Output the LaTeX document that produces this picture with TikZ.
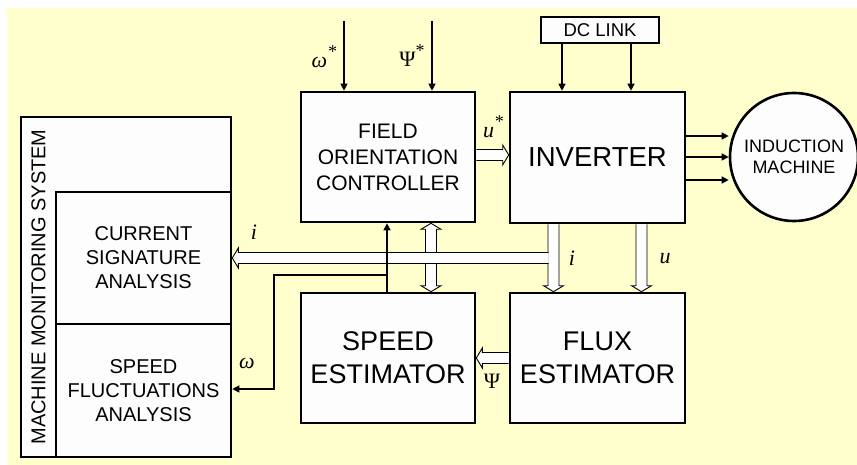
\documentclass[tikz,border=0pt]{standalone}
\usepackage{fontspec}
\setmainfont{Liberation Sans}
\newfontfamily\tms{Liberation Serif}
\usetikzlibrary{calc,arrows.meta}
\definecolor{bgyel}{RGB}{255,255,206}
\definecolor{boxw}{RGB}{253,253,253}
\tikzset{
  box/.style={draw=black, fill=boxw, line width=2.6pt, inner sep=0pt, align=center},
  thinarr/.style={line width=1.2pt, -{Triangle[length=7pt,width=7pt]}},
  hollowst/.style={draw=black, fill=white, line width=0.9pt, line join=miter},
  sym/.style={inner sep=0pt, font=\fontsize{22}{22}\tms}
}
\newcommand\sstar{\raisebox{0.45em}{\fontsize{18}{18}\selectfont *}}
% hollow (block) arrow from #1 to #2
\newcommand\hollow[2]{%
  \path (#1) coordinate (hs) (#2) coordinate (he);
  \path ($(he)!6pt!(hs)$) coordinate (hb);
  \filldraw[hollowst] ($(hs)!5.5pt!90:(he)$) -- ($(hb)!5.5pt!90:(he)$) -- ($(hb)!10pt!90:(he)$) -- (he)
    -- ($(hb)!10pt!-90:(he)$) -- ($(hb)!5.5pt!-90:(he)$) -- ($(hs)!5.5pt!-90:(he)$);
}
\begin{document}
\begin{tikzpicture}[x=1pt,y=-1pt]
\useasboundingbox (0,0) rectangle (857,465);
\fill[bgyel] (7,8) rectangle (857,465);

% machine monitoring system
\node[box, minimum width=210pt, minimum height=340pt] (mms) at (126,287) {};
\node[box, minimum width=175pt, minimum height=132pt, font=\fontsize{20}{24}\selectfont] (csa) at (143.5,258) {CURRENT\\SIGNATURE\\ANALYSIS};
\node[box, minimum width=175pt, minimum height=133pt, font=\fontsize{20}{24}\selectfont] (sfa) at (143.5,390.5) {SPEED\\FLUCTUATIONS\\ANALYSIS};
\node[rotate=90, inner sep=0pt, font=\fontsize{20}{24}\selectfont] (mmst) at (38.5,287) {MACHINE MONITORING SYSTEM};

% main blocks
\node[box, minimum width=174pt, minimum height=130pt, font=\fontsize{21}{26}\selectfont] (foc) at (388,157) {FIELD\\ORIENTATION\\CONTROLLER};
\node[box, minimum width=175pt, minimum height=131pt, font=\fontsize{27.5}{33}\selectfont] (inv) at (597.5,157.5) {INVERTER};
\node[box, minimum width=174pt, minimum height=130pt, font=\fontsize{27}{33}\selectfont] (se) at (388,358) {SPEED\\ESTIMATOR};
\node[box, minimum width=175pt, minimum height=130pt, font=\fontsize{27}{33}\selectfont] (fe) at (597.5,358) {FLUX\\ESTIMATOR};
\node[box, line width=2.4pt, minimum width=118pt, minimum height=26pt, font=\fontsize{18.5}{22}\selectfont] (dc) at (600,30) {DC LINK};
\node[box, circle, minimum size=128pt, font=\fontsize{18}{21}\selectfont] (im) at (794,157) {INDUCTION\\MACHINE};

% reference inputs
\coordinate (wst) at (344,21);
\coordinate (pst) at (432,21);
\draw[thinarr] (wst) -- (wst |- foc.north);
\draw[thinarr] (pst) -- (pst |- foc.north);
\node[sym] (lw) at (324,57) {\itshape ω\sstar};
\node[sym] (lp) at (412,56) {Ψ\sstar};

% DC link
\coordinate (d1) at (562,0);
\coordinate (d2) at (631,0);
\draw[thinarr] (d1 |- dc.south) -- (d1 |- inv.north);
\draw[thinarr] (d2 |- dc.south) -- (d2 |- inv.north);

% inverter to machine
\foreach \yy [count=\k] in {136,157,180} {
  \coordinate (m\k) at (0,\yy);
  \draw[thinarr] (inv.east |- m\k) -- (im.west |- m\k);
}

% u*
\coordinate (yu) at (0,155);
\hollow{foc.east |- yu}{inv.west |- yu}
\node[sym] (lu) at (493,127) {\itshape u\sstar};

% i and u down to flux estimator
\coordinate (xi) at (553.5,0);
\coordinate (xu) at (641.5,0);
\hollow{xi |- inv.south}{xi |- fe.north}
\hollow{xu |- inv.south}{xu |- fe.north}
\node[sym] (li2) at (572,258) {\itshape i};
\node[sym] (lu2) at (665,259) {\itshape u};

% double arrow FOC <-> speed estimator
\coordinate (xd) at (431,258);
\hollow{xd}{xd |- foc.south}
\hollow{xd}{xd |- se.north}

% i to current signature analysis
\coordinate (ib) at (548.5,258);
\hollow{ib}{csa.east |- ib}
\node[sym] (li1) at (254,232) {\itshape i};

% Psi from flux to speed estimator
\coordinate (yp) at (0,358);
\hollow{fe.west |- yp}{se.east |- yp}
\node[sym] (lp2) at (492,381) {Ψ};

% omega feedback
\coordinate (xw) at (387,0);
\coordinate (wbr) at (387,275);
\coordinate (wc1) at (274,275);
\coordinate (wc2) at (274,389);
\draw[thinarr] (xw |- se.north) -- (xw |- foc.south);
\draw[thinarr, line join=miter] (wbr) -- (wc1) -- (wc2) -- (sfa.east |- wc2);
\node[sym] (lw2) at (247,363) {\itshape ω};
\end{tikzpicture}
\end{document}
